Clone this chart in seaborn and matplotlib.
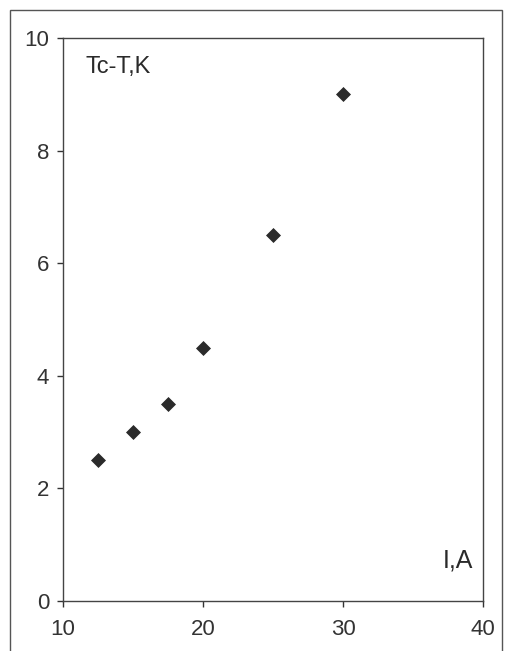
import numpy as np
import pandas as pd
import matplotlib
matplotlib.use("Agg")
import matplotlib.pyplot as plt
import seaborn as sns
from matplotlib.patches import Rectangle

# ---------- DATA ----------
current_a = [12.5, 15, 17.5, 20, 25, 30]
delta_t_k = [2.5, 3.0, 3.5, 4.5, 6.5, 9.0]
x_ticks = [10, 20, 30, 40]
y_ticks = [0, 2, 4, 6, 8, 10]

df = pd.DataFrame({"I": current_a, "dT": delta_t_k})

sns.set_style("white")
plt.rcParams['font.family'] = ['Liberation Sans', 'DejaVu Sans']

fig = plt.figure(figsize=(5.05, 6.51), dpi=100)
ax = fig.add_axes([63 / 505, 1 - 601 / 651, 420 / 505, 563 / 651])

sns.scatterplot(data=df, x="I", y="dT", marker="D", s=50,
                color="#2b2b2b", edgecolor="#2b2b2b", ax=ax)

ax.set_xlim(10, 40)
ax.set_ylim(0, 10)
ax.set_xticks(x_ticks)
ax.set_yticks(y_ticks)
ax.set_xlabel("")
ax.set_ylabel("")
ax.tick_params(labelsize=16, colors="#333333", length=4, width=1,
               direction="out", left=True, bottom=True)
ax.tick_params(axis="x", pad=9)
ax.tick_params(axis="y", pad=6)
for sp in ax.spines.values():
    sp.set_color("#444444")
    sp.set_linewidth(1.0)

ax.text(0.053, 0.938, "Tc-T,K", transform=ax.transAxes, fontsize=17,
        color="#2a2a2a", va="baseline", ha="left")
ax.text(0.976, 0.059, "I,A", transform=ax.transAxes, fontsize=18,
        color="#2a2a2a", va="baseline", ha="right")

# outer frame of the scanned figure
fig.patches.append(Rectangle((10 / 505, -0.01), 492 / 505, 1 - 10 / 651 + 0.01,
                             transform=fig.transFigure, fill=False,
                             edgecolor="#555555", linewidth=1.0))

fig.savefig("out.png", dpi=100)
